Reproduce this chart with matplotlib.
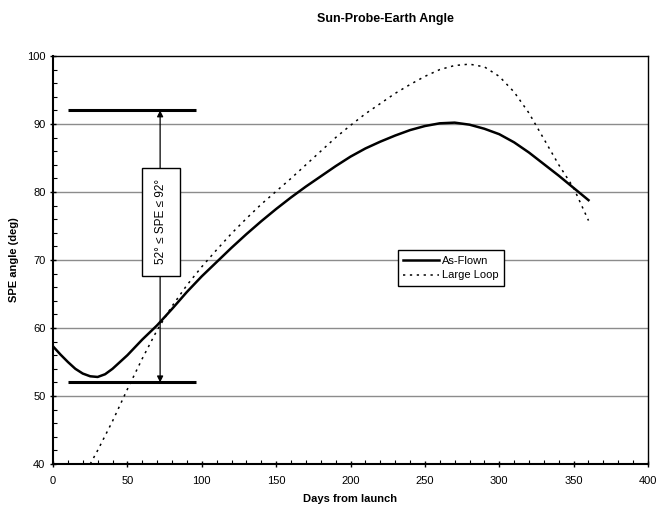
import matplotlib
matplotlib.use("Agg")
import matplotlib.pyplot as plt
from matplotlib.ticker import MultipleLocator
from matplotlib.patches import Rectangle

plt.rcParams['font.family'] = ['Liberation Sans', 'DejaVu Sans']

# As-Flown
flown_days = [0, 5, 10, 15, 20, 25, 30, 35, 40, 45, 50, 60, 70, 80, 90, 100, 110, 120,
              130, 140, 150, 160, 170, 180, 190, 200, 210, 220, 230, 240, 250, 260,
              270, 280, 290, 300, 310, 320, 330, 340, 350, 360]
flown_vals = [57.3, 56.1, 55.0, 54.0, 53.3, 52.9, 52.8, 53.2, 54.0, 55.0, 56.0, 58.3,
              60.4, 62.8, 65.3, 67.6, 69.7, 71.8, 73.8, 75.7, 77.5, 79.2, 80.8, 82.3,
              83.8, 85.2, 86.4, 87.4, 88.3, 89.1, 89.7, 90.1, 90.2, 89.9, 89.3, 88.5,
              87.3, 85.8, 84.1, 82.4, 80.6, 78.8]

# Large Loop
loop_days = [25, 30, 40, 50, 60, 70, 80, 90, 100, 110, 120, 130, 140, 150, 160, 170,
             180, 190, 200, 210, 220, 230, 240, 250, 260, 270, 280, 290, 300, 310,
             320, 330, 340, 350, 360]
loop_vals = [40.0, 42.0, 46.3, 51.0, 55.5, 59.7, 63.2, 66.3, 69.0, 71.5, 73.9, 76.1,
             78.2, 80.1, 82.0, 84.0, 86.0, 88.0, 89.8, 91.5, 93.0, 94.5, 95.8, 97.0,
             98.0, 98.6, 98.8, 98.4, 97.0, 94.7, 91.6, 87.8, 84.0, 80.6, 75.8]

# constraint annotation
spe_min, spe_max = 52, 92
bar_days = [10, 96]
arrow_day = 72

fig = plt.figure(figsize=(6.67, 5.09), dpi=100)
ax = fig.add_axes([0.0795, 0.0884, 0.892, 0.8016])

ax.set_xlim(0, 400)
ax.set_ylim(40, 100)

for y in range(50, 100, 10):
    ax.axhline(y, color='#8c8c8c', lw=1.0, zorder=1)

ax.plot(flown_days, flown_vals, color='black', lw=1.8, label='As-Flown', zorder=3)
ax.plot(loop_days, loop_vals, color='black', lw=1.1, linestyle=(0, (1.5, 3)),
        label='Large Loop', zorder=3)

# constraint bars
ax.plot(bar_days, [spe_max, spe_max], color='black', lw=2.2, solid_capstyle='butt', zorder=4)
ax.plot(bar_days, [spe_min, spe_min], color='black', lw=2.2, solid_capstyle='butt', zorder=4)
ax.annotate('', xy=(arrow_day, spe_max), xytext=(arrow_day, spe_min),
            arrowprops=dict(arrowstyle='<|-|>', color='black', lw=0.9,
                            shrinkA=0, shrinkB=0, mutation_scale=9), zorder=4)
ax.add_patch(Rectangle((60, 67.7), 25.2, 15.9, facecolor='white', edgecolor='black',
                       lw=1.0, zorder=5))
ax.text(72.6, 75.65, '52° ≤ SPE ≤ 92°', rotation=90, ha='center', va='center',
        fontsize=8.5, zorder=6)

ax.xaxis.set_major_locator(MultipleLocator(50))
ax.xaxis.set_minor_locator(MultipleLocator(10))
ax.yaxis.set_major_locator(MultipleLocator(10))
ax.yaxis.set_minor_locator(MultipleLocator(2))
ax.tick_params(axis='both', which='major', direction='inout', length=5, width=1,
               labelsize=8, colors='black')
ax.tick_params(axis='both', which='minor', direction='in', length=3, width=0.8)
ax.tick_params(axis='x', pad=6)
ax.tick_params(axis='y', pad=3)

for s in ax.spines.values():
    s.set_color('black')
    s.set_linewidth(1.0)
ax.spines['left'].set_linewidth(1.5)
ax.spines['bottom'].set_linewidth(1.5)

ax.set_xlabel('Days from launch', fontsize=8, fontweight='bold', labelpad=6)
ax.set_ylabel('SPE angle (deg)', fontsize=8, fontweight='bold', labelpad=6)

leg = ax.legend(loc='upper left', bbox_to_anchor=(0.57, 0.537), fontsize=8,
                frameon=True, fancybox=False, edgecolor='black', framealpha=1,
                handlelength=3.2, borderpad=0.5, labelspacing=0.4, handletextpad=0.3)
leg.get_frame().set_linewidth(1.0)
leg.set_zorder(7)

fig.text(385 / 667, 1 - 19 / 509, 'Sun-Probe-Earth Angle', ha='center', va='center',
         fontsize=9, fontweight='bold')

fig.savefig('out.png', dpi=100)
